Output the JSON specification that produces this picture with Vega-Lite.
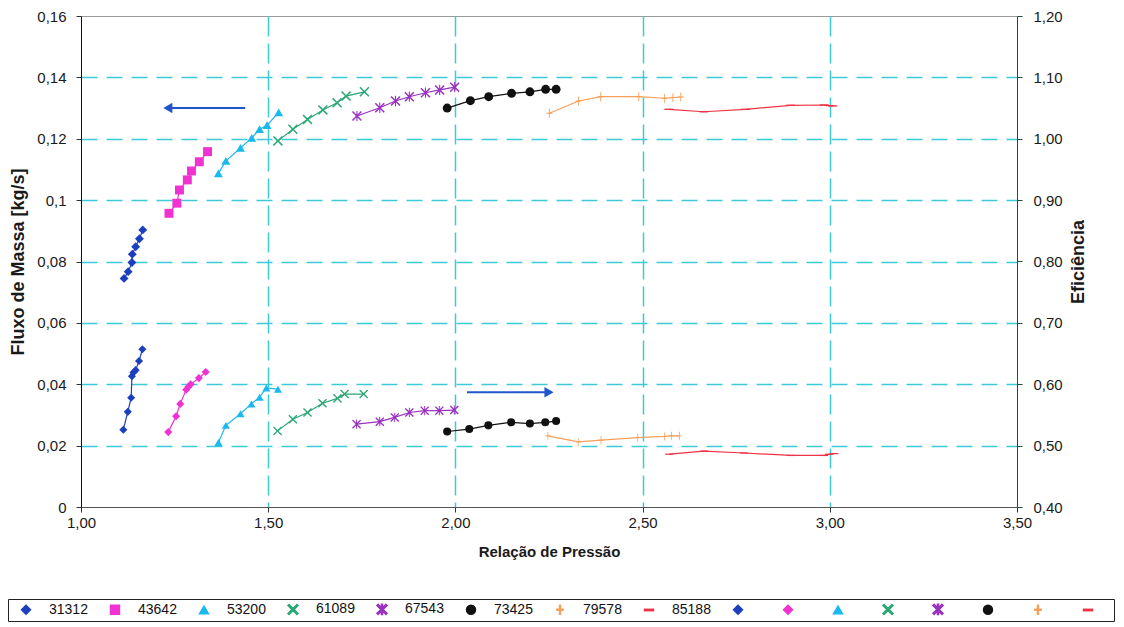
{
  "$schema": "https://vega.github.io/schema/vega-lite/v6.json",
  "width": 936,
  "height": 491,
  "autosize": {"type": "none"},
  "padding": {"left": 81, "top": 16, "right": 107, "bottom": 120},
  "background": "white",
  "config": {
    "font": "Liberation Sans",
    "view": {"stroke": "#9a9a9a", "strokeWidth": 1},
    "axis": {"labelFont": "Liberation Sans", "titleFont": "Liberation Sans", "labelFontSize": 15, "titleFontSize": 15, "titleFontWeight": "bold", "labelColor": "#1a1a1a", "titleColor": "#1a1a1a", "tickColor": "#333", "domainColor": "#333", "labelFlush": false},
    "legend": {"orient": "none", "legendX": -73, "legendY": 583, "direction": "horizontal", "columns": 16, "labelFontSize": 14, "labelFont": "Liberation Sans", "labelColor": "#111", "symbolSize": 80, "symbolOffset": 8, "labelOffset": 16, "columnPadding": 12, "padding": 3, "strokeColor": "#222", "fillColor": "white"}
  },
  "datasets": {
    "mass": [
      {"g": "31312", "x": 1.115, "y": 0.0745}, {"g": "31312", "x": 1.126, "y": 0.0767}, {"g": "31312", "x": 1.136, "y": 0.0797}, {"g": "31312", "x": 1.137, "y": 0.0824}, {"g": "31312", "x": 1.146, "y": 0.0848}, {"g": "31312", "x": 1.156, "y": 0.0874}, {"g": "31312", "x": 1.165, "y": 0.0903},
      {"g": "43642", "x": 1.235, "y": 0.0957}, {"g": "43642", "x": 1.256, "y": 0.099}, {"g": "43642", "x": 1.263, "y": 0.1033}, {"g": "43642", "x": 1.284, "y": 0.1066}, {"g": "43642", "x": 1.295, "y": 0.1095}, {"g": "43642", "x": 1.316, "y": 0.1125}, {"g": "43642", "x": 1.338, "y": 0.1158},
      {"g": "53200", "x": 1.367, "y": 0.1087}, {"g": "53200", "x": 1.387, "y": 0.1128}, {"g": "53200", "x": 1.426, "y": 0.117}, {"g": "53200", "x": 1.456, "y": 0.1203}, {"g": "53200", "x": 1.477, "y": 0.1231}, {"g": "53200", "x": 1.497, "y": 0.1244}, {"g": "53200", "x": 1.528, "y": 0.1286},
      {"g": "61089", "x": 1.526, "y": 0.1193}, {"g": "61089", "x": 1.566, "y": 0.1231}, {"g": "61089", "x": 1.605, "y": 0.1263}, {"g": "61089", "x": 1.646, "y": 0.1294}, {"g": "61089", "x": 1.684, "y": 0.1317}, {"g": "61089", "x": 1.708, "y": 0.1339}, {"g": "61089", "x": 1.757, "y": 0.1353},
      {"g": "67543", "x": 1.737, "y": 0.1274}, {"g": "67543", "x": 1.798, "y": 0.1301}, {"g": "67543", "x": 1.84, "y": 0.1323}, {"g": "67543", "x": 1.877, "y": 0.1337}, {"g": "67543", "x": 1.92, "y": 0.135}, {"g": "67543", "x": 1.958, "y": 0.1359}, {"g": "67543", "x": 1.998, "y": 0.1368},
      {"g": "73425", "x": 1.978, "y": 0.13}, {"g": "73425", "x": 2.04, "y": 0.1324}, {"g": "73425", "x": 2.089, "y": 0.1337}, {"g": "73425", "x": 2.15, "y": 0.1348}, {"g": "73425", "x": 2.199, "y": 0.1353}, {"g": "73425", "x": 2.241, "y": 0.1361}, {"g": "73425", "x": 2.269, "y": 0.1361},
      {"g": "79578", "x": 2.251, "y": 0.1283}, {"g": "79578", "x": 2.329, "y": 0.1323}, {"g": "79578", "x": 2.388, "y": 0.1337}, {"g": "79578", "x": 2.49, "y": 0.1337}, {"g": "79578", "x": 2.559, "y": 0.1332}, {"g": "79578", "x": 2.581, "y": 0.1334}, {"g": "79578", "x": 2.602, "y": 0.1336},
      {"g": "85188", "x": 2.57, "y": 0.1296}, {"g": "85188", "x": 2.663, "y": 0.1288}, {"g": "85188", "x": 2.775, "y": 0.1296}, {"g": "85188", "x": 2.895, "y": 0.1309}, {"g": "85188", "x": 2.985, "y": 0.131}, {"g": "85188", "x": 3.0, "y": 0.1308}, {"g": "85188", "x": 3.008, "y": 0.1307}
    ],
    "eff": [
      {"g": "e31312", "x": 1.113, "y": 0.526}, {"g": "e31312", "x": 1.125, "y": 0.555}, {"g": "e31312", "x": 1.134, "y": 0.578}, {"g": "e31312", "x": 1.136, "y": 0.613}, {"g": "e31312", "x": 1.14, "y": 0.619}, {"g": "e31312", "x": 1.146, "y": 0.623}, {"g": "e31312", "x": 1.155, "y": 0.638}, {"g": "e31312", "x": 1.164, "y": 0.657},
      {"g": "e43642", "x": 1.233, "y": 0.522}, {"g": "e43642", "x": 1.254, "y": 0.548}, {"g": "e43642", "x": 1.265, "y": 0.568}, {"g": "e43642", "x": 1.281, "y": 0.591}, {"g": "e43642", "x": 1.287, "y": 0.596}, {"g": "e43642", "x": 1.293, "y": 0.6}, {"g": "e43642", "x": 1.315, "y": 0.61}, {"g": "e43642", "x": 1.333, "y": 0.62},
      {"g": "e53200", "x": 1.367, "y": 0.505}, {"g": "e53200", "x": 1.387, "y": 0.533}, {"g": "e53200", "x": 1.426, "y": 0.552}, {"g": "e53200", "x": 1.455, "y": 0.568}, {"g": "e53200", "x": 1.477, "y": 0.579}, {"g": "e53200", "x": 1.495, "y": 0.594}, {"g": "e53200", "x": 1.526, "y": 0.592},
      {"g": "e61089", "x": 1.525, "y": 0.524}, {"g": "e61089", "x": 1.566, "y": 0.543}, {"g": "e61089", "x": 1.605, "y": 0.554}, {"g": "e61089", "x": 1.645, "y": 0.569}, {"g": "e61089", "x": 1.685, "y": 0.577}, {"g": "e61089", "x": 1.704, "y": 0.584}, {"g": "e61089", "x": 1.755, "y": 0.584},
      {"g": "e67543", "x": 1.736, "y": 0.535}, {"g": "e67543", "x": 1.798, "y": 0.539}, {"g": "e67543", "x": 1.838, "y": 0.546}, {"g": "e67543", "x": 1.877, "y": 0.554}, {"g": "e67543", "x": 1.918, "y": 0.557}, {"g": "e67543", "x": 1.957, "y": 0.557}, {"g": "e67543", "x": 1.997, "y": 0.558},
      {"g": "e73425", "x": 1.978, "y": 0.523}, {"g": "e73425", "x": 2.037, "y": 0.527}, {"g": "e73425", "x": 2.088, "y": 0.533}, {"g": "e73425", "x": 2.149, "y": 0.538}, {"g": "e73425", "x": 2.199, "y": 0.536}, {"g": "e73425", "x": 2.24, "y": 0.538}, {"g": "e73425", "x": 2.269, "y": 0.54},
      {"g": "e79578", "x": 2.247, "y": 0.516}, {"g": "e79578", "x": 2.328, "y": 0.506}, {"g": "e79578", "x": 2.389, "y": 0.509}, {"g": "e79578", "x": 2.487, "y": 0.513}, {"g": "e79578", "x": 2.559, "y": 0.515}, {"g": "e79578", "x": 2.577, "y": 0.516}, {"g": "e79578", "x": 2.598, "y": 0.516},
      {"g": "e85188", "x": 2.571, "y": 0.486}, {"g": "e85188", "x": 2.664, "y": 0.491}, {"g": "e85188", "x": 2.771, "y": 0.488}, {"g": "e85188", "x": 2.896, "y": 0.484}, {"g": "e85188", "x": 2.985, "y": 0.484}, {"g": "e85188", "x": 2.998, "y": 0.486}, {"g": "e85188", "x": 3.012, "y": 0.487}
    ],
    "arrows": [
      {"x": 1.4385, "x2": 1.232, "y": 0.13},
      {"x": 2.031, "x2": 2.25, "y": 0.0374}
    ]
  },
  "resolve": {"scale": {"y": "independent"}},
  "layer": [
    {
      "layer": [
        {
          "data": {"name": "mass"},
          "mark": {"type": "point", "filled": true, "opacity": 1, "size": 80},
          "encoding": {
            "x": {"field": "x", "type": "quantitative", "scale": {"domain": [1, 3.5], "nice": false, "zero": false},
              "axis": {"values": [1, 1.5, 2, 2.5, 3, 3.5], "labelExpr": "replace(format(datum.value, '.2f'), '.', ',')", "title": "Relação de Pressão", "tickSize": 5, "labelPadding": 3, "titlePadding": 14, "grid": true, "gridColor": {"condition": {"test": "datum.value < 1.01 || datum.value > 3.49", "value": "transparent"}, "value": "#3cc9d8"}, "gridDash": [20, 7], "gridWidth": 1.5, "domainColor": "#555"}},
            "y": {"field": "y", "type": "quantitative", "scale": {"domain": [0, 0.16], "nice": false},
              "axis": {"orient": "left", "values": [0, 0.02, 0.04, 0.06, 0.08, 0.1, 0.12, 0.14, 0.16], "labelExpr": "replace(format(datum.value, '.2~f'), '.', ',')", "title": "Fluxo de Massa [kg/s]", "titleFontSize": 18, "tickSize": 5, "labelPadding": 10, "titlePadding": 9, "grid": true, "gridColor": {"condition": {"test": "datum.value < 0.001 || datum.value > 0.159", "value": "transparent"}, "value": "#3cc9d8"}, "gridDash": [16, 9], "gridWidth": 1.5, "domainColor": "#111"}},
            "color": {"field": "g", "type": "nominal", "title": null,
              "scale": {"domain": ["31312", "43642", "53200", "61089", "67543", "73425", "79578", "85188", "e31312", "e43642", "e53200", "e61089", "e67543", "e73425", "e79578", "e85188"],
                "range": ["#1c3fbf", "#f032d2", "#1ab9ee", "#2aa876", "#9932c0", "#111111", "#f5a05a", "#ee3344", "#1c3fbf", "#f032d2", "#1ab9ee", "#2aa876", "#9932c0", "#111111", "#f5a05a", "#ee3344"]},
              "legend": {"labelExpr": "indexof(datum.label, 'e') == 0 ? '' : datum.label"}},
            "shape": {"field": "g", "type": "nominal", "title": null,
              "scale": {"domain": ["31312", "43642", "53200", "61089", "67543", "73425", "79578", "85188", "e31312", "e43642", "e53200", "e61089", "e67543", "e73425", "e79578", "e85188"],
                "range": ["diamond", "square", "triangle-up", "M0,-0.24L0.88,-1.12L1.12,-0.88L0.24,0L1.12,0.88L0.88,1.12L0,0.24L-0.88,1.12L-1.12,0.88L-0.24,0L-1.12,-0.88L-0.88,-1.12Z", "M0,-0.24L0.88,-1.12L1.12,-0.88L0.24,0L1.12,0.88L0.88,1.12L0,0.24L-0.88,1.12L-1.12,0.88L-0.24,0L-1.12,-0.88L-0.88,-1.12ZM-0.12,-1.15H0.12V1.15H-0.12Z", "circle", "M-0.1,-1H0.1V-0.1H0.7V0.1H0.1V1H-0.1V0.1H-0.7V-0.1H-0.1Z", "M-1,-0.15H1V0.15H-1Z", "diamond", "diamond", "triangle-up", "M0,-0.24L0.88,-1.12L1.12,-0.88L0.24,0L1.12,0.88L0.88,1.12L0,0.24L-0.88,1.12L-1.12,0.88L-0.24,0L-1.12,-0.88L-0.88,-1.12Z", "M0,-0.24L0.88,-1.12L1.12,-0.88L0.24,0L1.12,0.88L0.88,1.12L0,0.24L-0.88,1.12L-1.12,0.88L-0.24,0L-1.12,-0.88L-0.88,-1.12ZM-0.12,-1.15H0.12V1.15H-0.12Z", "circle", "M-0.1,-1H0.1V-0.1H0.7V0.1H0.1V1H-0.1V0.1H-0.7V-0.1H-0.1Z", "M-1,-0.15H1V0.15H-1Z"]},
              "legend": {"labelExpr": "indexof(datum.label, 'e') == 0 ? '' : datum.label"}}
          }
        },
        {
          "data": {"name": "mass"},
          "mark": {"type": "line", "strokeWidth": 1.2},
          "encoding": {
            "x": {"field": "x", "type": "quantitative"},
            "y": {"field": "y", "type": "quantitative"},
            "color": {"field": "g", "type": "nominal", "title": null}
          }
        },
        {
          "data": {"name": "arrows"},
          "mark": {"type": "rule", "color": "#2255cc", "strokeWidth": 2},
          "encoding": {
            "x": {"field": "x", "type": "quantitative"},
            "x2": {"field": "x2"},
            "y": {"field": "y", "type": "quantitative"}
          }
        },
        {
          "data": {"name": "arrows"},
          "transform": [{"filter": "datum.x2 < datum.x"}],
          "mark": {"type": "point", "shape": "triangle-left", "filled": true, "color": "#2255cc", "opacity": 1, "size": 110},
          "encoding": {
            "x": {"field": "x2", "type": "quantitative"},
            "y": {"field": "y", "type": "quantitative"}
          }
        },
        {
          "data": {"name": "arrows"},
          "transform": [{"filter": "datum.x2 > datum.x"}],
          "mark": {"type": "point", "shape": "triangle-right", "filled": true, "color": "#2255cc", "opacity": 1, "size": 110},
          "encoding": {
            "x": {"field": "x2", "type": "quantitative"},
            "y": {"field": "y", "type": "quantitative"}
          }
        }
      ]
    },
    {
      "layer": [
        {
          "data": {"name": "eff"},
          "mark": {"type": "point", "filled": true, "opacity": 1, "size": 65},
          "encoding": {
            "x": {"field": "x", "type": "quantitative"},
            "y": {"field": "y", "type": "quantitative", "scale": {"domain": [0.4, 1.2], "nice": false, "zero": false},
              "axis": {"orient": "right", "values": [0.4, 0.5, 0.6, 0.7, 0.8, 0.9, 1.0, 1.1, 1.2], "labelExpr": "replace(format(datum.value, '.2f'), '.', ',')", "title": "Eficiência", "titleAngle": 270, "titleFontSize": 18, "tickSize": 5, "labelPadding": 11, "titlePadding": 25, "grid": false, "domainColor": "#2d4a38", "tickColor": "#2d4a38"}},
            "color": {"field": "g", "type": "nominal", "title": null},
            "shape": {"field": "g", "type": "nominal", "title": null}
          }
        },
        {
          "data": {"name": "eff"},
          "mark": {"type": "line", "strokeWidth": 1.2},
          "encoding": {
            "x": {"field": "x", "type": "quantitative"},
            "y": {"field": "y", "type": "quantitative"},
            "color": {"field": "g", "type": "nominal", "title": null}
          }
        }
      ]
    }
  ]
}
